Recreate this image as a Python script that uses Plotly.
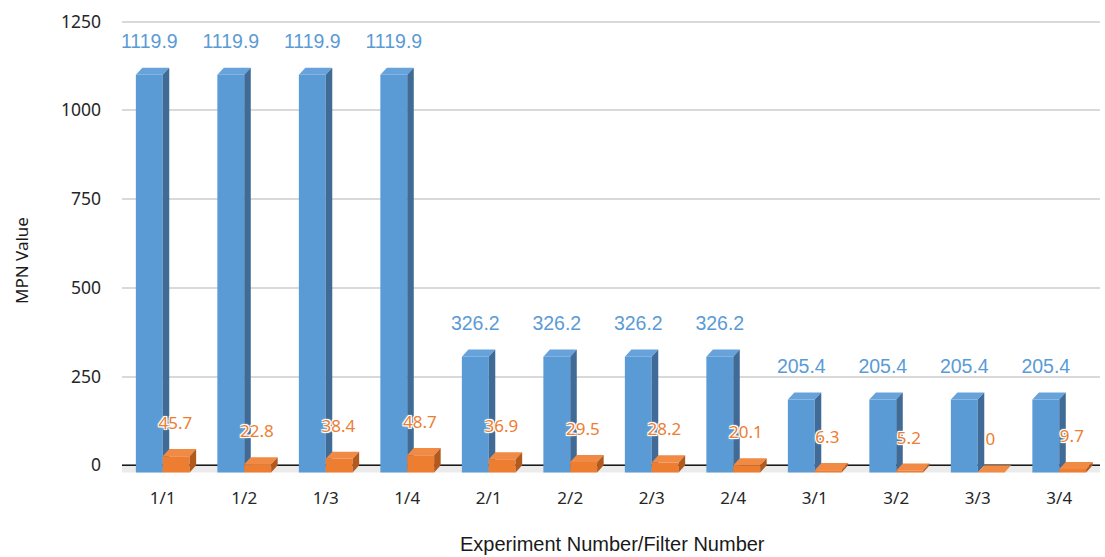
import plotly.graph_objects as go

# Experiment / filter combinations and MPN values
categories = ["1/1", "1/2", "1/3", "1/4", "2/1", "2/2", "2/3", "2/4",
              "3/1", "3/2", "3/3", "3/4"]
mpn_before = [1119.9, 1119.9, 1119.9, 1119.9, 326.2, 326.2, 326.2, 326.2,
              205.4, 205.4, 205.4, 205.4]
mpn_after = [45.7, 22.8, 38.4, 48.7, 36.9, 29.5, 28.2, 20.1, 6.3, 5.2, 0, 9.7]
y_ticks = [0, 250, 500, 750, 1000, 1250]

# pseudo-3D column geometry (data units)
BAR_W = 0.33      # width of one column
DEPTH_X = 0.08    # horizontal shift of the back edge
DEPTH_Y = 20      # vertical shift of the back edge
LABEL_PAD = 68    # gap between column top and its label

BLUE = "#5B9BD5"
BLUE_TOP = "#67A3DA"
BLUE_SIDE = "#3F6B96"
ORANGE = "#ED7D31"
ORANGE_TOP = "#F08A44"
ORANGE_SIDE = "#B2591E"


def faces(values, left_offset):
    """Front, top and side polygons of a row of 3D columns."""
    fx, fy, tx, ty, sx, sy = [], [], [], [], [], []
    for i, v in enumerate(values):
        x0 = i + left_offset
        x1 = x0 + BAR_W
        lo = -DEPTH_Y
        hi = v - DEPTH_Y
        fx += [x0, x1, x1, x0, x0, None]
        fy += [lo, lo, hi, hi, lo, None]
        tx += [x0, x1, x1 + DEPTH_X, x0 + DEPTH_X, x0, None]
        ty += [hi, hi, v, v, hi, None]
        sx += [x1, x1 + DEPTH_X, x1 + DEPTH_X, x1, x1, None]
        sy += [lo, 0, v, hi, lo, None]
    return (fx, fy), (tx, ty), (sx, sy)


def poly(xy, color):
    return go.Scatter(x=xy[0], y=xy[1], mode="lines", fill="toself",
                      fillcolor=color, line=dict(width=0, color=color),
                      hoverinfo="skip", showlegend=False)


n = len(categories)
fig = go.Figure()

# floor strip and base line
fig.add_trace(go.Scatter(
    x=[-0.5, n - 0.4, n - 0.4 - DEPTH_X, -0.5 - DEPTH_X - 0.03, -0.5],
    y=[0, 0, -DEPTH_Y, -DEPTH_Y, 0],
    mode="lines", fill="toself", fillcolor="#EBEBEB",
    line=dict(width=0), hoverinfo="skip", showlegend=False))
fig.add_trace(go.Scatter(x=[-0.5, n - 0.4], y=[0, 0], mode="lines",
                         line=dict(color="#1a1a1a", width=1.5),
                         hoverinfo="skip", showlegend=False))

b_front, b_top, b_side = faces(mpn_before, -BAR_W)
o_front, o_top, o_side = faces(mpn_after, 0.0)
fig.add_trace(poly(b_front, BLUE))
fig.add_trace(poly(b_top, BLUE_TOP))
fig.add_trace(poly(b_side, BLUE_SIDE))
fig.add_trace(poly(o_front, ORANGE))
fig.add_trace(poly(o_top, ORANGE_TOP))
fig.add_trace(poly(o_side, ORANGE_SIDE))

xs = list(range(n))
fig.add_trace(go.Scatter(
    x=[i - BAR_W / 2 for i in xs], y=[v + LABEL_PAD for v in mpn_before],
    mode="text", text=[f"{v:g}" for v in mpn_before],
    textposition="middle center",
    textfont=dict(family="Liberation Sans, Arial", size=19.5, color=BLUE),
    hoverinfo="skip", showlegend=False))

halo = ("0 0 2px #fff, 0 0 2px #fff, 0 0 3px #fff, 1px 1px 0 #fff, "
        "-1px -1px 0 #fff, 1px -1px 0 #fff, -1px 1px 0 #fff")
fig.add_trace(go.Scatter(
    x=[i + BAR_W / 2 - 0.01 for i in xs], y=[v + LABEL_PAD for v in mpn_after],
    mode="text", text=[f"{v:g}" for v in mpn_after],
    textposition="middle center",
    textfont=dict(family="Noto Sans, Open Sans", size=17, color=ORANGE,
                  shadow=halo),
    hoverinfo="skip", showlegend=False))

fig.update_layout(
    width=1105, height=557,
    margin=dict(l=122, r=5, t=18, b=81),
    paper_bgcolor="white", plot_bgcolor="white",
    xaxis=dict(range=[-0.5, n - 0.5], tickvals=xs, ticktext=categories,
               showgrid=False, zeroline=False, showline=False,
               ticks="", ticklabelstandoff=10,
               tickfont=dict(family="Noto Sans, Open Sans", size=17,
                             color="#262626")),
    yaxis=dict(range=[-30, 1260], tickvals=y_ticks,
               showgrid=True, gridcolor="#D9D9D9", gridwidth=1.5,
               zeroline=False, showline=False, ticks="",
               ticklabelstandoff=20,
               tickfont=dict(family="Noto Sans, Open Sans", size=17.5,
                             color="#262626")),
    annotations=[
        dict(text="MPN Value", xref="paper", yref="paper", x=-0.103, y=0.47,
             showarrow=False, textangle=-90, xanchor="center", yanchor="middle",
             font=dict(family="Noto Sans, Open Sans", size=17, color="#1a1a1a")),
        dict(text="Experiment Number/Filter Number", xref="paper",
             yref="paper", x=0.502, y=-0.149, showarrow=False,
             xanchor="center", yanchor="middle",
             font=dict(family="Liberation Sans, Arial", size=20,
                       color="#1a1a1a")),
    ],
)

fig.write_html("out.html")
